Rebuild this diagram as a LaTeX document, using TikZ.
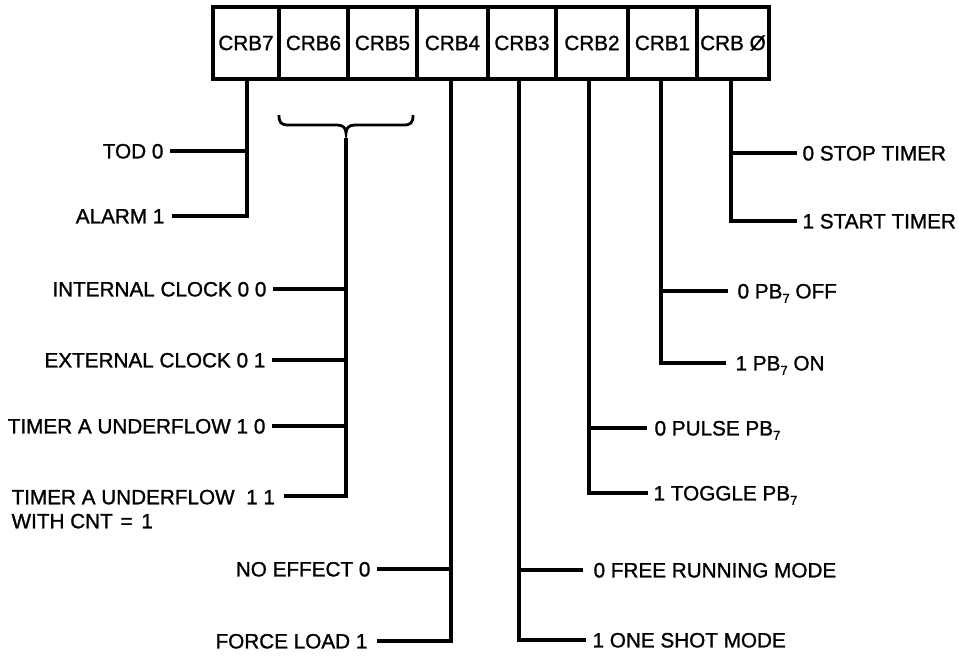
\documentclass[tikz,border=0pt]{standalone}
\usepackage{fontspec}
\setmainfont{Liberation Sans}[FakeBold=1.2]
\newcommand{\lblfont}{\fontsize{20.7}{24}\selectfont}
\newcommand{\subsev}{{\fontsize{13}{13}\selectfont\raisebox{-4.5pt}{7}}}
\begin{document}
\begin{tikzpicture}[x=1pt,y=-1pt,line width=3.2pt,line join=miter,
  cell/.style={draw,line width=3.4pt,minimum height=72pt,inner sep=0pt,font=\lblfont},
  lbl/.style={inner sep=0pt,text height=14.8pt,text depth=0pt,font=\lblfont},
  wire/.style={line width=3.2pt}]
\useasboundingbox (0,0) rectangle (959,656);
% register cells
\node[cell,minimum width=66pt] (c7) at (246,43) {CRB7};
\node[cell,minimum width=69pt] (c6) at (313.5,43) {CRB6};
\node[cell,minimum width=69pt] (c5) at (382.5,43) {CRB5};
\node[cell,minimum width=71pt] (c4) at (452.5,43) {CRB4};
\node[cell,minimum width=68pt] (c3) at (522,43) {CRB3};
\node[cell,minimum width=72pt] (c2) at (592,43) {CRB2};
\node[cell,minimum width=69pt] (c1) at (662.5,43) {CRB1};
\node[cell,minimum width=72pt] (c0) at (733,43) {CRB Ø};
% junctions
\coordinate (j7a) at (247,151);
\coordinate (j7b) at (247,216);
\coordinate (brbot) at (346,138);
\coordinate (j65a) at (346,289);
\coordinate (j65b) at (346,360);
\coordinate (j65c) at (346,426);
\coordinate (j65d) at (346,496);
\coordinate (j4a) at (451,569);
\coordinate (j4b) at (451,641);
\coordinate (j3a) at (519,570);
\coordinate (j3b) at (519,640);
\coordinate (j2a) at (589,428);
\coordinate (j2b) at (589,493);
\coordinate (j1a) at (661,291);
\coordinate (j1b) at (661,363);
\coordinate (j0a) at (731,153);
\coordinate (j0b) at (731,221);
% left labels
\node[lbl,anchor=east] (tod) at (165,151) {TOD 0};
\node[lbl,anchor=east] (alarm) at (166,216) {ALARM 1};
\node[lbl,anchor=east] (intc) at (268,289) {INTERNAL CLOCK 0 0};
\node[lbl,anchor=east] (extc) at (267,360) {EXTERNAL CLOCK 0 1};
\node[lbl,anchor=east] (ta10) at (267,426) {TIMER A UNDERFLOW 1 0};
\node[inner sep=0pt,font=\lblfont,align=left,anchor=north west] (ta11) at (10,488.2)
  {TIMER A UNDERFLOW\ \ 1 1\\WITH CNT\hspace{2pt} = \hspace{3pt}1};
\node[lbl,anchor=east] (noeff) at (372,569) {NO EFFECT 0};
\node[lbl,anchor=east] (force) at (369,641) {FORCE LOAD 1};
% right labels
\node[lbl,anchor=west] (stop) at (801,153) {0 STOP TIMER};
\node[lbl,anchor=west] (start) at (801,221) {1 START TIMER};
\node[lbl,anchor=west] (pboff) at (736,291) {0 PB\subsev\ OFF};
\node[lbl,anchor=west] (pbon) at (734,363) {1 PB\subsev\ ON};
\node[lbl,anchor=west] (pulse) at (653,428) {0 PULSE PB\subsev};
\node[lbl,anchor=west] (toggle) at (652,493) {1 TOGGLE PB\subsev};
\node[lbl,anchor=west] (free) at (592,570) {0 FREE RUNNING MODE};
\node[lbl,anchor=west] (oneshot) at (591,640) {1 ONE SHOT MODE};
% brace over CRB6 and CRB5
\draw[line width=2.8pt] (279,115) .. controls (279,123) and (281,125) .. (289,125) -- (337,125)
  .. controls (343,125) and (346,128) .. (346,133)
  .. controls (346,128) and (349,125) .. (355,125) -- (403,125)
  .. controls (411,125) and (413,123) .. (413,115);
% CRB7
\draw[wire] (c7.south -| j7a) -- (j7b) -- ([xshift=6pt]alarm.east);
\draw[wire] (j7a) -- ([xshift=5pt]tod.east);
% CRB6/5
\draw[wire] (brbot) -- (j65d) -- ([xshift=7pt]ta11.north east |- j65d);
\draw[wire] (j65a) -- ([xshift=5pt]intc.east);
\draw[wire] (j65b) -- ([xshift=5pt]extc.east);
\draw[wire] (j65c) -- ([xshift=5pt]ta10.east);
% CRB4
\draw[wire] (c4.south -| j4a) -- (j4b) -- ([xshift=8pt]force.east);
\draw[wire] (j4a) -- ([xshift=5pt]noeff.east);
% CRB3
\draw[wire] (c3.south -| j3a) -- (j3b) -- ([xshift=-5pt]oneshot.west);
\draw[wire] (j3a) -- ([xshift=-9pt]free.west);
% CRB2
\draw[wire] (c2.south -| j2a) -- (j2b) -- ([xshift=-4pt]toggle.west);
\draw[wire] (j2a) -- ([xshift=-6pt]pulse.west);
% CRB1
\draw[wire] (c1.south -| j1a) -- (j1b) -- ([xshift=-8pt]pbon.west);
\draw[wire] (j1a) -- ([xshift=-8pt]pboff.west);
% CRB0
\draw[wire] (c0.south -| j0a) -- (j0b) -- ([xshift=-4pt]start.west);
\draw[wire] (j0a) -- ([xshift=-4pt]stop.west);
\end{tikzpicture}
\end{document}
